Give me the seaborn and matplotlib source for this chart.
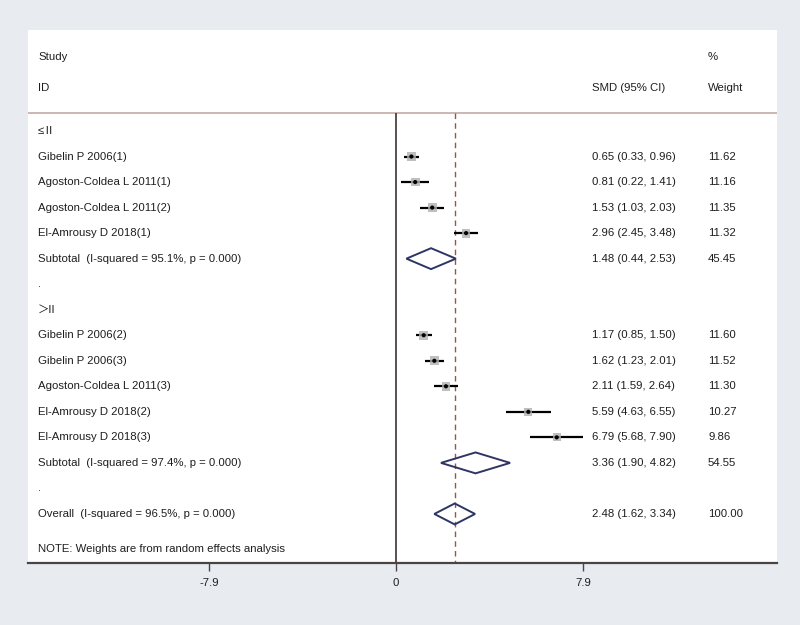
import matplotlib
matplotlib.use("Agg")
import matplotlib.pyplot as plt
from matplotlib.patches import Polygon
import seaborn as sns
import pandas as pd
import numpy as np

# ---- data ----
studies = ["Gibelin P 2006(1)", "Agoston-Coldea L 2011(1)", "Agoston-Coldea L 2011(2)",
           "El-Amrousy D 2018(1)",
           "Gibelin P 2006(2)", "Gibelin P 2006(3)", "Agoston-Coldea L 2011(3)",
           "El-Amrousy D 2018(2)", "El-Amrousy D 2018(3)"]
groups = ["≤Ⅱ"] * 4 + ["＞II"] * 5
smd = [0.65, 0.81, 1.53, 2.96, 1.17, 1.62, 2.11, 5.59, 6.79]
lo = [0.33, 0.22, 1.03, 2.45, 0.85, 1.23, 1.59, 4.63, 5.68]
hi = [0.96, 1.41, 2.03, 3.48, 1.50, 2.01, 2.64, 6.55, 7.90]
weights = [11.62, 11.16, 11.35, 11.32, 11.60, 11.52, 11.30, 10.27, 9.86]

group_names = ["≤Ⅱ", "＞II"]
sub_labels = ["Subtotal  (I-squared = 95.1%, p = 0.000)",
              "Subtotal  (I-squared = 97.4%, p = 0.000)"]
sub_est = [1.48, 3.36]
sub_lo = [0.44, 1.90]
sub_hi = [2.53, 4.82]
sub_w = [45.45, 54.55]

overall_label = "Overall  (I-squared = 96.5%, p = 0.000)"
overall_est, overall_lo, overall_hi, overall_w = 2.48, 1.62, 3.34, 100.00

xticks = [-7.9, 0, 7.9]
xticklabels = ["-7.9", "0", "7.9"]

# ---- build rows ----
rows = []  # (label, kind, est, lo, hi, w)
for g, sl, se, slo, shi, sw in zip(group_names, sub_labels, sub_est, sub_lo, sub_hi, sub_w):
    rows.append((g, "header", None, None, None, None))
    for s, gg, e, l, h, w in zip(studies, groups, smd, lo, hi, weights):
        if gg == g:
            rows.append((s, "study", e, l, h, w))
    rows.append((sl, "sub", se, slo, shi, sw))
    rows.append((".", "blank", None, None, None, None))
rows.append((overall_label, "sub", overall_est, overall_lo, overall_hi, overall_w))

df = pd.DataFrame(rows, columns=["label", "kind", "est", "lo", "hi", "w"])
df["row"] = np.arange(len(df))

# ---- figure ----
sns.set_theme(style="white")
plt.rcParams["font.family"] = ["Liberation Sans", "Noto Sans CJK SC", "DejaVu Sans"]

fig = plt.figure(figsize=(8, 6.25), dpi=100)
fig.patch.set_facecolor("#e8ecf0")
ax = fig.add_axes([28/800, 62/625, 749/800, 533/625])
ax.set_facecolor("white")

px_per_unit = 187 / 7.9
ax.set_xlim((28 - 396) / px_per_unit, (777 - 396) / px_per_unit)
row_px = 25.53
ax.set_ylim((563 - 131) / row_px, (30 - 131) / row_px)

fs = 8.2
txtcol = "#1e1e1e"
header_line_y = (113 - 131) / row_px

# header texts
ax.text(0.0134, (57 - 131) / row_px, "Study", transform=ax.get_yaxis_transform(), fontsize=fs, color=txtcol, va="center")
ax.text(0.0134, (88 - 131) / row_px, "ID", transform=ax.get_yaxis_transform(), fontsize=fs, color=txtcol, va="center")
ax.text(0.753, (88 - 131) / row_px, "SMD (95% CI)", transform=ax.get_yaxis_transform(), fontsize=fs, color=txtcol, va="center")
ax.text(0.908, (57 - 131) / row_px, "%", transform=ax.get_yaxis_transform(), fontsize=fs, color=txtcol, va="center")
ax.text(0.908, (88 - 131) / row_px, "Weight", transform=ax.get_yaxis_transform(), fontsize=fs, color=txtcol, va="center")
ax.axhline(header_line_y, color="#c2aca6", lw=1.2)

# reference lines
ax.vlines(0, header_line_y, ax.get_ylim()[0], color="#4e4040", lw=1.3)
ax.vlines(overall_est, header_line_y, ax.get_ylim()[0], color="#9a5548", lw=1.0,
          linestyles=(0, (4, 3)))

# labels
for _, r in df.iterrows():
    ax.text(0.0134, r["row"], r["label"], transform=ax.get_yaxis_transform(),
            fontsize=fs, color=txtcol, va="center")
    if r["kind"] in ("study", "sub"):
        ax.text(0.753, r["row"], f"{r['est']:.2f} ({r['lo']:.2f}, {r['hi']:.2f})",
                transform=ax.get_yaxis_transform(), fontsize=fs, color=txtcol, va="center")
        ax.text(0.908, r["row"], f"{r['w']:.2f}",
                transform=ax.get_yaxis_transform(), fontsize=fs, color=txtcol, va="center")

ax.text(0.0134, (549 - 131) / row_px, "NOTE: Weights are from random effects analysis",
        transform=ax.get_yaxis_transform(), fontsize=fs, color=txtcol, va="center")

# studies
st = df[df["kind"] == "study"]
ax.hlines(st["row"], st["lo"], st["hi"], color="black", lw=1.6, zorder=3)
sns.scatterplot(data=st, x="est", y="row", size="w", sizes=(34, 42), marker="s",
                color="#b0b0b0", edgecolor="none", alpha=0.8, legend=False, ax=ax, zorder=4)
sns.scatterplot(data=st, x="est", y="row", marker="o", s=9, color="black",
                edgecolor="none", legend=False, ax=ax, zorder=5)

# diamonds
sb = df[df["kind"] == "sub"]
h = 0.41
for _, r in sb.iterrows():
    poly = Polygon([(r["lo"], r["row"]), (r["est"], r["row"] - h),
                    (r["hi"], r["row"]), (r["est"], r["row"] + h)],
                   closed=True, fill=False, edgecolor="#2e3565", lw=1.4, zorder=4)
    ax.add_patch(poly)

# axes styling
for s in ["top", "left", "right"]:
    ax.spines[s].set_visible(False)
ax.spines["bottom"].set_color("#4a4444")
ax.spines["bottom"].set_linewidth(1.6)
ax.set_xticks(xticks)
ax.set_xticklabels(xticklabels, fontsize=fs, color=txtcol)
ax.tick_params(axis="x", bottom=True, length=6, width=1, color="#4a4444", pad=5)
ax.set_yticks([])
ax.set_xlabel("")
ax.set_ylabel("")

fig.savefig("out.png", dpi=100, facecolor=fig.get_facecolor())
